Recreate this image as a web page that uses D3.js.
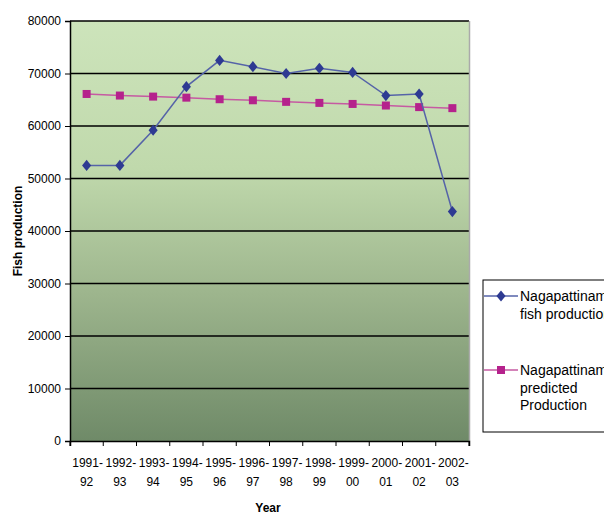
<!DOCTYPE html>
<html><head><meta charset="utf-8">
<script src="https://cdn.jsdelivr.net/npm/d3@7"></script>
<style>body{margin:0;background:#fff;} text{font-family:"Liberation Sans",Arial,sans-serif;}</style>
</head><body><svg id="c" width="604" height="515"></svg>
<script>
const years = ["1991-|92","1992-|93","1993-|94","1994-|95","1995-|96","1996-|97","1997-|98","1998-|99","1999-|00","2000-|01","2001-|02","2002-|03"];
const actual = [52500,52500,59200,67500,72500,71300,70000,71000,70200,65800,66100,43700];
const predicted = [66100,65800,65600,65400,65100,64900,64600,64400,64200,63900,63600,63400];
const yTicks = [0,10000,20000,30000,40000,50000,60000,70000,80000];
const seriesNames = [["Nagapattinam","fish production"],["Nagapattinam","predicted","Production"]];

const svg = d3.select("#c");
const L=70,R=469,T=21,B=441;
const x = d3.scaleBand().domain(years).range([L,R]);
const y = d3.scaleLinear().domain([0,80000]).range([B,T]);

const defs = svg.append("defs");
const g = defs.append("linearGradient").attr("id","bg").attr("x1",0).attr("y1",0).attr("x2",0).attr("y2",1);
g.append("stop").attr("offset","0").attr("stop-color","#cde4bb");
g.append("stop").attr("offset","0.35").attr("stop-color","#c0d9ac");
g.append("stop").attr("offset","0.65").attr("stop-color","#9db58d");
g.append("stop").attr("offset","1").attr("stop-color","#6f8a68");
svg.append("rect").attr("x",L).attr("y",T).attr("width",R-L).attr("height",B-T).attr("fill","url(#bg)");

// gridlines
svg.append("g").selectAll("line").data(yTicks.filter(d=>d>0)).join("line")
  .attr("x1",L).attr("x2",R).attr("y1",d=>y(d)).attr("y2",d=>y(d))
  .attr("stroke","#000").attr("stroke-width",1.5);
// right border
svg.append("line").attr("x1",R+0.5).attr("x2",R+0.5).attr("y1",T).attr("y2",B).attr("stroke","#aaa").attr("stroke-width",1.5);

// y axis
const ya = svg.append("g").attr("transform",`translate(${L},0)`)
  .call(d3.axisLeft(y).tickValues(yTicks).tickSize(5).tickPadding(4).tickFormat(d3.format("d")));
ya.select(".domain").attr("stroke","#000").attr("stroke-width",1.5);
ya.selectAll("text").attr("font-size",12).attr("fill","#000");

// x axis
const xa = svg.append("g").attr("transform",`translate(0,${B})`)
  .call(d3.axisBottom(x).tickSize(5).tickFormat(""));
xa.select(".domain").attr("stroke","#000").attr("stroke-width",1.5);
xa.selectAll(".tick line").attr("transform",`translate(${-x.bandwidth()/2},0)`).attr("stroke","#000");
xa.append("line").attr("x1",R).attr("x2",R).attr("y1",0).attr("y2",5).attr("stroke","#000");
years.forEach(yr=>{
  const parts = yr.split("|");
  const t = svg.append("text").attr("x",x(yr)+x.bandwidth()/2+2).attr("y",467).attr("text-anchor","middle").attr("font-size",12);
  t.append("tspan").attr("x",x(yr)+x.bandwidth()/2+1).text(parts[0]);
  t.append("tspan").attr("x",x(yr)+x.bandwidth()/2).attr("dy",19).text(parts[1]);
});

// titles
svg.append("text").attr("x",268).attr("y",512).attr("text-anchor","middle").attr("font-size",12).attr("font-weight","bold").text("Year");
svg.append("text").attr("transform","translate(22,231) rotate(-90)").attr("text-anchor","middle").attr("font-size",12).attr("font-weight","bold").text("Fish production");

const cx = (d,i)=>x(years[i])+x.bandwidth()/2;
const line = d3.line().x((d,i)=>cx(d,i)).y(d=>y(d));
const blue="#2e3a92", pink="#b5228c";
svg.append("path").datum(predicted).attr("d",line).attr("fill","none").attr("stroke","#c65aa2").attr("stroke-width",1.5);
svg.append("g").selectAll("rect").data(predicted).join("rect")
  .attr("x",(d,i)=>cx(d,i)-4).attr("y",d=>y(d)-4).attr("width",8).attr("height",8).attr("fill",pink);
svg.append("path").datum(actual).attr("d",line).attr("fill","none").attr("stroke","#5563a8").attr("stroke-width",1.5);
const diamond = d3.symbol().type(d3.symbolDiamond).size(50);
svg.append("g").selectAll("path").data(actual).join("path")
  .attr("d",diamond).attr("transform",(d,i)=>`translate(${cx(d,i)},${y(d)}) scale(1.2,0.85)`).attr("fill",blue);

// legend
svg.append("rect").attr("x",483).attr("y",280).attr("width",130).attr("height",152).attr("fill","#fff").attr("stroke","#000").attr("stroke-width",1);
const leg = [{c:"#5563a8",m:blue,type:"d",y:296,lines:seriesNames[0]},{c:"#c65aa2",m:pink,type:"s",y:370,lines:seriesNames[1]}];
leg.forEach(l=>{
  svg.append("line").attr("x1",484).attr("x2",518).attr("y1",l.y).attr("y2",l.y).attr("stroke",l.c).attr("stroke-width",1.5);
  if(l.type==="d") svg.append("path").attr("d",diamond).attr("transform",`translate(501,${l.y}) scale(1.2,0.85)`).attr("fill",l.m);
  else svg.append("rect").attr("x",497).attr("y",l.y-4).attr("width",8).attr("height",8).attr("fill",l.m);
  l.lines.forEach((s,i)=>svg.append("text").attr("x",520).attr("y",l.y+5+i*17.5).attr("font-size",14).text(s));
});
</script></body></html>
